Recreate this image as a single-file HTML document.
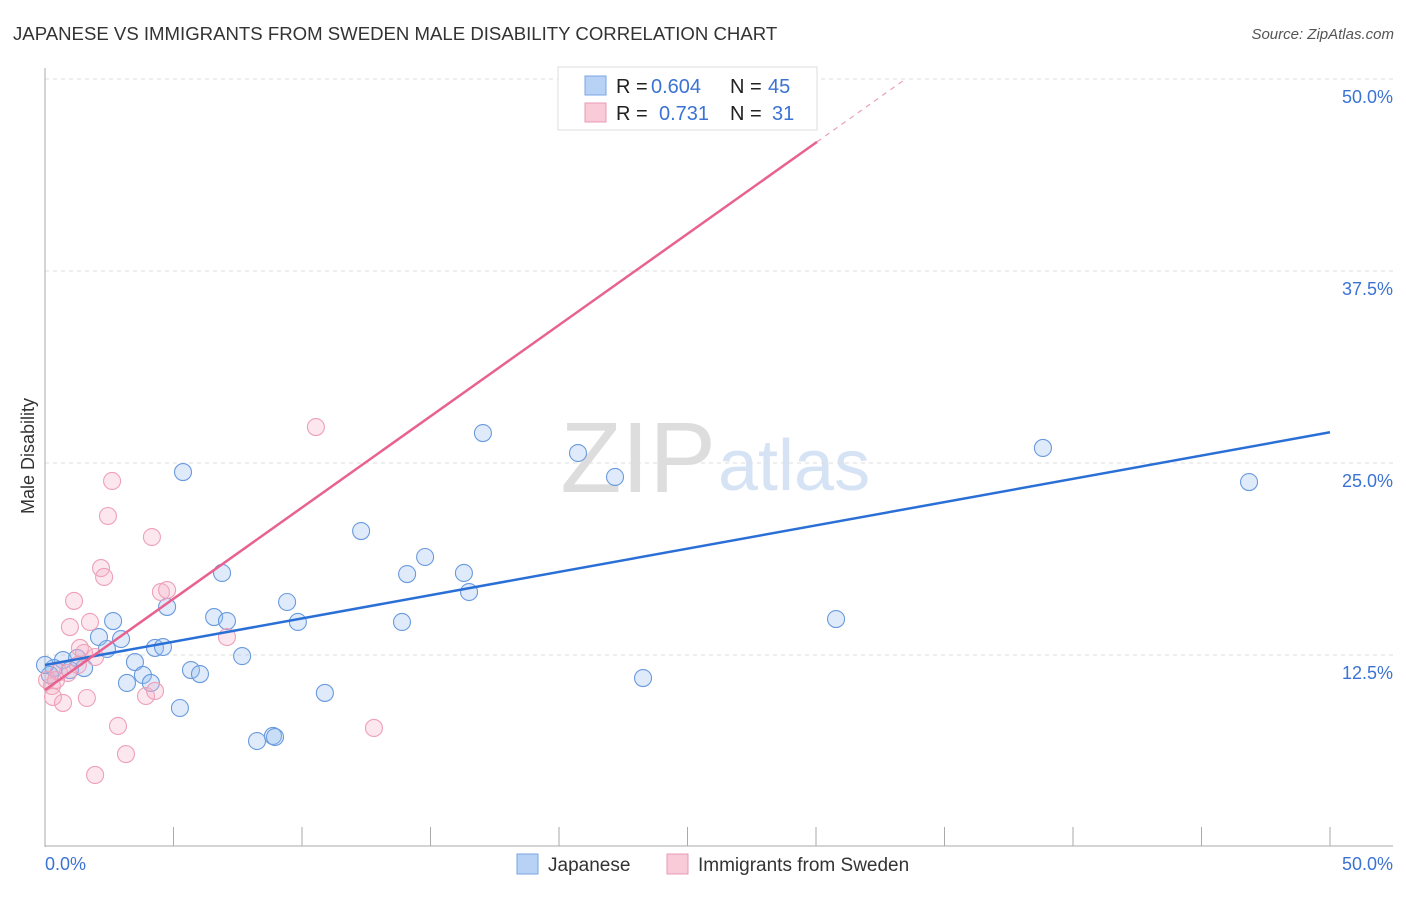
<!DOCTYPE html>
<html><head><meta charset="utf-8"><style>
body{margin:0;background:#fff;font-family:"Liberation Sans",sans-serif}
svg text{font-family:"Liberation Sans",sans-serif}
</style></head><body>
<svg id="c" width="1406" height="892"></svg>
<script>
const japanesePx=[[183,472],[361,531],[425,557],[407,574],[464,573],[469,592],[222,573],[167,607],[113,621],[214,617],[227,621],[287,602],[298,622],[402,622],[483,433],[578,453],[615,477],[1043,448],[1249,482],[836,619],[643,678],[99,637],[121,639],[107,649],[155,648],[163,647],[242,656],[63,660],[77,658],[135,662],[191,670],[200,674],[143,675],[127,683],[151,683],[84,668],[54,668],[50,675],[180,708],[325,693],[257,741],[273,736],[275,737],[70,670],[45,665]];
const swedenPx=[[316,427],[112,481],[108,516],[152,537],[101,568],[104,577],[74,601],[161,592],[167,590],[90,622],[70,627],[227,637],[80,648],[95,657],[84,653],[59,672],[68,673],[52,686],[53,697],[63,703],[87,698],[146,696],[155,691],[118,726],[126,754],[95,775],[374,728],[713,95],[47,680],[56,680],[78,665]];
// data values (percent)
const japaneseX=japanesePx.map(p=>+((p[0]-45)/1285*50).toFixed(2));
const japaneseY=japanesePx.map(p=>+((847-p[1])/192*12.5).toFixed(2));
const swedenX=swedenPx.map(p=>+((p[0]-45)/1285*50).toFixed(2));
const swedenY=swedenPx.map(p=>+((847-p[1])/192*12.5).toFixed(2));
const yTicks=[12.5,25,37.5,50];
const yTickLabels=["12.5%","25.0%","37.5%","50.0%"];
const blueFit=[11.85,0.303];
const pinkFit=[10.22,1.188];

const sx=v=>45+v/50*1285, sy=v=>847-v/12.5*192;
const svg=document.getElementById('c');const NS='http://www.w3.org/2000/svg';
function el(t,a,txt){const e=document.createElementNS(NS,t);for(const k in a)e.setAttribute(k,a[k]);if(txt!=null)e.textContent=txt;svg.appendChild(e);return e;}
let e;
e=el('text',{x:13,y:40,'font-size':18.6,fill:'#333'},'JAPANESE VS IMMIGRANTS FROM SWEDEN MALE DISABILITY CORRELATION CHART');

e=el('text',{x:1394,y:39,'font-size':15,fill:'#555','text-anchor':'end','font-style':'italic'},'Source: ZipAtlas.com');

e=el('text',{x:716,y:492,'font-size':100,fill:'#ddd','text-anchor':'end','font-family':'Liberation Serif'},'ZIP');

e=el('text',{x:718,y:490,'font-size':72,fill:'#d6e3f5'},'atlas');

yTicks.forEach((t,i)=>{
 e=el('line',{x1:45,x2:1393,y1:sy(t),y2:sy(t),stroke:'#ddd','stroke-dasharray':'4,4'});
 
 e=el('text',{x:1393,y:sy(t)+24,'font-size':18,fill:'#3b73d4','text-anchor':'end'},yTickLabels[i]);
 
});
e=el('line',{x1:45,x2:45,y1:68,y2:847,stroke:'#aaa'});
e=el('line',{x1:45,x2:1393,y1:846,y2:846,stroke:'#aaa'});
for(let i=1;i<=10;i++){e=el('line',{x1:sx(i*5),x2:sx(i*5),y1:827,y2:846,stroke:'#aaa'});}
e=el('text',{x:45,y:870,'font-size':18,fill:'#3b73d4'},'0.0%');
e=el('text',{x:1393,y:870,'font-size':18,fill:'#3b73d4','text-anchor':'end'},'50.0%');
e=el('text',{x:34,y:456,'font-size':18,fill:'#333','text-anchor':'middle',transform:'rotate(-90 34 456)'},'Male Disability');

japaneseX.forEach((x,i)=>{e=el('circle',{cx:sx(x),cy:sy(japaneseY[i]),r:8.5,fill:'rgba(150,188,238,0.3)',stroke:'#6a9ade','stroke-width':1.1});
 });
swedenX.forEach((x,i)=>{e=el('circle',{cx:sx(x),cy:sy(swedenY[i]),r:8.5,fill:'rgba(245,175,200,0.3)',stroke:'#eea0b8','stroke-width':1.1});
 });
e=el('line',{x1:sx(0),y1:sy(blueFit[0]),x2:sx(50),y2:sy(blueFit[0]+blueFit[1]*50),stroke:'#2a6fd6','stroke-width':2.5});

const pe=30.04, pd=33.46;
e=el('line',{x1:sx(0),y1:sy(pinkFit[0]),x2:sx(pe),y2:sy(pinkFit[0]+pinkFit[1]*pe),stroke:'#e8628f','stroke-width':2.5});

e=el('line',{x1:sx(pe),y1:sy(pinkFit[0]+pinkFit[1]*pe),x2:sx(pd),y2:sy(pinkFit[0]+pinkFit[1]*pd),stroke:'#e8a0b8','stroke-width':1.2,'stroke-dasharray':'5,5'});

// legend
e=el('rect',{x:558,y:67,width:259,height:63,fill:'#fff',stroke:'#ddd'});
e=el('rect',{x:585,y:76,width:21,height:19,fill:'#b8d2f5',stroke:'#7aa6e4'});
e=el('rect',{x:585,y:103,width:21,height:19,fill:'#f9cad8',stroke:'#eb9ab3'});
[[93,'0.604','45',651,768],[120,'0.731','31',659,772]].forEach(r=>{
 e=el('text',{x:616,y:r[0],'font-size':20,fill:'#222'},'R =');
 e=el('text',{x:r[3],y:r[0],'font-size':20,fill:'#3b73d4'},r[1]);
 e=el('text',{x:730,y:r[0],'font-size':20,fill:'#222'},'N =');
 e=el('text',{x:r[4],y:r[0],'font-size':20,fill:'#3b73d4'},r[2]);
});
e=el('rect',{x:517,y:854,width:21,height:20,fill:'#b8d2f5',stroke:'#7aa6e4'});
e=el('text',{x:548,y:871,'font-size':19,fill:'#333'},'Japanese');
e=el('rect',{x:667,y:854,width:21,height:20,fill:'#f9cad8',stroke:'#eb9ab3'});
e=el('text',{x:698,y:871,'font-size':19,fill:'#333'},'Immigrants from Sweden');
</script>
</body></html>
